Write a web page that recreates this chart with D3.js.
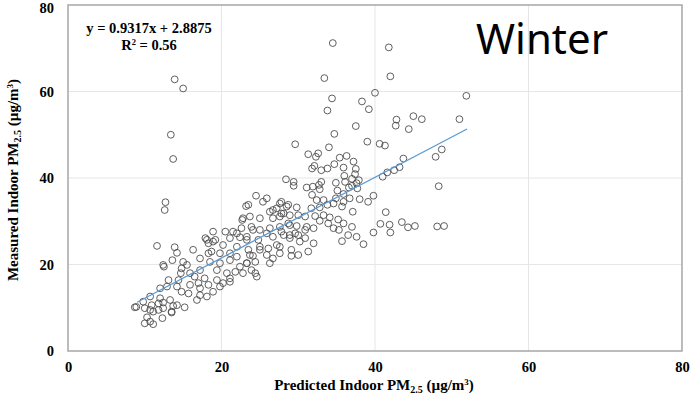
<!DOCTYPE html>
<html>
<head>
<meta charset="utf-8">
<script src="https://cdn.jsdelivr.net/npm/d3@7"></script>
<style>
  body { margin: 0; background: #fff; }
  svg { display: block; }
</style>
</head>
<body>
<svg id="chart"></svg>
<script>
// predicted (x) and measured (y) indoor PM2.5
const predicted = [
  34.5, 41.8, 33.4, 42.0, 40.0, 34.4, 38.3, 33.8, 39.2, 51.9, 42.8, 42.7, 45.0, 46.1, 51.0, 37.5, 44.4, 34.7, 39.0, 40.6,
  41.3, 34.0, 31.3, 32.3, 32.6, 35.4, 36.3, 37.2, 34.7, 43.7, 47.9, 48.7, 48.3, 43.5, 44.3, 45.2, 48.1, 49.0, 41.0, 41.6,
  42.5, 43.2, 41.4, 40.7, 41.9, 42.0, 29.6, 31.8, 32.1, 33.0, 33.8, 35.9, 37.5, 37.4, 36.0, 37.0, 37.9, 28.4, 29.4, 29.4,
  31.1, 31.9, 32.7, 33.0, 32.8, 34.9, 35.1, 36.1, 36.6, 37.0, 37.7, 37.6, 31.8, 32.4, 33.3, 34.9, 35.9, 36.7, 35.9, 38.0,
  39.1, 39.8, 27.8, 28.5, 29.8, 31.7, 32.8, 33.8, 34.6, 35.7, 37.1, 28.1, 28.9, 30.0, 30.9, 32.2, 33.3, 34.1, 35.2, 35.9,
  32.8, 28.7, 29.8, 31.1, 32.0, 33.9, 34.6, 35.3, 37.0, 36.5, 37.6, 38.5, 39.8, 35.7, 30.0, 30.9, 28.9, 27.8, 24.5, 25.9,
  25.4, 23.5, 22.8, 23.7, 22.7, 25.0, 26.3, 27.2, 27.6, 28.7, 26.7, 27.6, 27.6, 26.3, 25.0, 23.9, 22.6, 21.5, 20.5, 18.9,
  17.9, 18.3, 19.2, 21.1, 22.4, 23.3, 24.8, 25.9, 26.7, 28.1, 28.9, 29.6, 30.9, 30.2, 32.0, 20.2, 22.0, 23.5, 25.0, 26.1,
  27.2, 27.6, 25.9, 24.1, 21.1, 19.8, 18.7, 29.1, 30.0, 31.3, 11.6, 13.9, 14.2, 13.6, 12.4, 15.0, 15.5, 14.8, 14.7, 15.9,
  17.2, 18.3, 18.5, 17.2, 16.5, 14.4, 13.1, 12.9, 12.0, 14.2, 14.8, 15.7, 15.9, 17.0, 17.2, 17.8, 19.4, 19.8, 21.1, 22.0,
  20.7, 21.8, 19.4, 18.3, 17.2, 10.7, 9.8, 8.9, 10.0, 10.9, 11.8, 11.1, 12.4, 13.3, 13.7, 15.2, 12.0, 10.3, 10.7, 10.0,
  11.1, 12.3, 13.5, 16.8, 18.1, 18.9, 20.2, 21.1, 22.4, 23.3, 22.8, 23.9, 24.4, 23.7, 24.6, 21.1, 19.8, 23.3, 22.0, 18.1,
  18.9, 16.3, 13.4, 13.7, 12.7, 12.6, 12.5, 8.7, 13.9, 15.0, 23.2, 26.7, 27.8, 28.9, 24.1, 25.0, 26.7, 26.3, 23.3, 24.4,
  29.1, 27.6, 12.4, 14.2, 13.5, 10.7, 11.8
];
const measured = [
  71.2, 70.2, 63.1, 63.5, 59.7, 58.4, 57.7, 55.6, 55.9, 59.0, 53.5, 52.1, 54.3, 53.6, 53.6, 52.0, 51.3, 50.2, 48.4, 47.9,
  47.5, 47.1, 45.5, 44.9, 45.7, 44.7, 45.1, 43.8, 43.2, 44.5, 44.9, 46.6, 38.1, 29.8, 28.6, 28.9, 28.8, 28.9, 40.3, 41.3,
  41.8, 42.5, 32.1, 29.4, 29.2, 27.4, 47.8, 42.2, 42.8, 41.8, 42.2, 42.4, 42.1, 40.9, 40.5, 39.8, 39.5, 39.7, 39.1, 38.2,
  37.8, 38.0, 38.4, 39.1, 37.4, 38.9, 37.1, 39.1, 37.8, 38.2, 37.6, 38.8, 36.1, 34.9, 34.9, 35.3, 36.3, 35.3, 34.5, 35.1,
  34.5, 35.9, 34.5, 33.4, 33.2, 33.0, 33.2, 33.8, 34.1, 33.4, 32.2, 31.8, 31.4, 31.4, 31.1, 31.2, 31.4, 30.9, 30.4, 29.5,
  30.1, 29.5, 28.9, 28.7, 28.4, 29.5, 28.4, 28.0, 28.7, 26.8, 26.4, 24.7, 27.4, 25.4, 26.8, 26.1, 26.8, 27.6, 35.9, 35.3,
  34.5, 33.8, 30.7, 31.1, 30.3, 30.7, 32.2, 33.0, 34.1, 33.8, 30.7, 31.1, 28.7, 28.4, 28.0, 28.7, 28.4, 27.6, 27.6, 27.6,
  26.1, 24.9, 25.7, 26.1, 26.3, 25.7, 25.7, 27.2, 26.4, 26.8, 26.1, 27.2, 28.0, 25.3, 24.9, 24.5, 24.1, 23.4, 23.4, 23.7,
  24.5, 22.6, 22.2, 22.0, 22.6, 22.6, 23.0, 23.4, 22.2, 23.0, 24.3, 24.0, 22.7, 21.0, 19.9, 20.6, 19.9, 19.1, 18.0, 18.0,
  21.4, 22.6, 20.6, 18.7, 17.2, 16.4, 16.4, 14.9, 14.5, 14.9, 13.7, 13.3, 15.3, 15.7, 14.5, 16.8, 18.7, 20.3, 21.0, 21.8,
  18.0, 18.3, 16.4, 15.3, 12.9, 12.6, 11.4, 10.2, 9.9, 10.6, 11.0, 9.1, 9.9, 11.8, 10.4, 10.1, 12.2, 7.8, 6.8, 6.4,
  6.2, 7.6, 9.1, 11.8, 12.6, 13.7, 15.7, 16.8, 19.5, 20.3, 18.0, 18.7, 20.6, 22.2, 17.2, 16.0, 14.9, 26.4, 27.2, 25.7,
  25.3, 23.4, 50.0, 44.4, 34.4, 32.6, 19.5, 10.1, 62.8, 60.7, 33.5, 32.6, 31.8, 29.1, 28.0, 24.1, 21.4, 20.3, 20.3, 18.0,
  22.0, 24.1, 11.2, 10.6, 8.9, 9.5, 9.5
];
const tickValues = [0, 20, 40, 60, 80];
const slope = 0.9317;
const intercept = 2.8875;
const fitRange = [9, 52];

const width = 691;
const height = 395;
const margin = { top: 5, right: 9, bottom: 44, left: 68 };

const svg = d3.select("#chart").attr("width", width).attr("height", height);

const x = d3.scaleLinear().domain([0, 80]).range([margin.left, width - margin.right]);
const y = d3.scaleLinear().domain([0, 80]).range([height - margin.bottom, margin.top]);

const serif = "'Liberation Serif', 'Times New Roman', serif";

// gridlines
svg.append("g")
  .selectAll("line.vg")
  .data(tickValues.slice(1, -1))
  .join("line")
  .attr("x1", (d) => x(d)).attr("x2", (d) => x(d))
  .attr("y1", y(0)).attr("y2", y(80))
  .attr("stroke", "#e6e6e6").attr("stroke-width", 1);

svg.append("g")
  .selectAll("line.hg")
  .data(tickValues.slice(1, -1))
  .join("line")
  .attr("y1", (d) => y(d)).attr("y2", (d) => y(d))
  .attr("x1", x(0)).attr("x2", x(80))
  .attr("stroke", "#e6e6e6").attr("stroke-width", 1);

// frame
svg.append("rect")
  .attr("x", x(0)).attr("y", y(80))
  .attr("width", x(80) - x(0)).attr("height", y(0) - y(80))
  .attr("fill", "none").attr("stroke", "#a6a6a6").attr("stroke-width", 1.5);

// axes
const xAxis = svg.append("g")
  .attr("transform", `translate(0,${y(0)})`)
  .call(d3.axisBottom(x).tickValues(tickValues).tickSize(0).tickPadding(11));
const yAxis = svg.append("g")
  .attr("transform", `translate(${x(0)},0)`)
  .call(d3.axisLeft(y).tickValues(tickValues).tickSize(0).tickPadding(14));
[xAxis, yAxis].forEach((g) => {
  g.select(".domain").remove();
  g.selectAll("text")
    .style("font-family", serif)
    .style("font-weight", "bold")
    .style("font-size", "14.5px")
    .attr("fill", "#000");
});
// top label sits at the very edge; nudge it inside
yAxis.selectAll(".tick text").filter((d) => d === 80).attr("dy", "0.55em");

// points
svg.append("g")
  .selectAll("circle")
  .data(predicted.map((p, i) => [p, measured[i]]))
  .join("circle")
  .attr("cx", (d) => x(d[0]))
  .attr("cy", (d) => y(d[1]))
  .attr("r", 3.4)
  .attr("fill", "none")
  .attr("stroke", "#4d4d4d")
  .attr("stroke-width", 0.9);

// trend line
const line = d3.line().x((d) => x(d)).y((d) => y(slope * d + intercept));
svg.append("path")
  .datum(fitRange)
  .attr("d", line)
  .attr("fill", "none")
  .attr("stroke", "#5b9bd5")
  .attr("stroke-width", 1.3);

// equation
const eq = svg.append("g")
  .style("font-family", serif)
  .style("font-weight", "bold")
  .style("font-size", "14.5px");
eq.append("text").attr("x", 149).attr("y", 33).attr("text-anchor", "middle")
  .text(`y = ${slope}x + ${intercept}`);
const r2 = eq.append("text").attr("x", 149).attr("y", 50).attr("text-anchor", "middle");
r2.append("tspan").text("R");
r2.append("tspan").attr("font-size", "8.5px").attr("dy", -5).text("2");
r2.append("tspan").attr("dy", 5).text(" = 0.56");

// title
svg.append("text")
  .attr("x", 476).attr("y", 54)
  .style("font-family", "'Noto Sans', 'Open Sans', sans-serif")
  .style("font-size", "42px")
  .attr("fill", "#000")
  .text("Winter");

// axis titles
function pmLabel(sel, lead) {
  sel.append("tspan").text(lead + " PM");
  sel.append("tspan").attr("font-size", "10px").attr("dy", 3).text("2.5");
  sel.append("tspan").attr("dy", -3).text(" (µg/m");
  sel.append("tspan").attr("font-size", "9px").attr("dy", -5).text("3");
  sel.append("tspan").attr("dy", 5).text(")");
}

const xTitle = svg.append("text")
  .attr("x", 374).attr("y", 390)
  .attr("text-anchor", "middle")
  .style("font-family", serif).style("font-weight", "bold").style("font-size", "15px");
pmLabel(xTitle, "Predicted Indoor");

const yTitle = svg.append("text")
  .attr("transform", "translate(18,180) rotate(-90)")
  .attr("text-anchor", "middle")
  .style("font-family", serif).style("font-weight", "bold").style("font-size", "15px");
pmLabel(yTitle, "Measured Indoor");
</script>
</body>
</html>
